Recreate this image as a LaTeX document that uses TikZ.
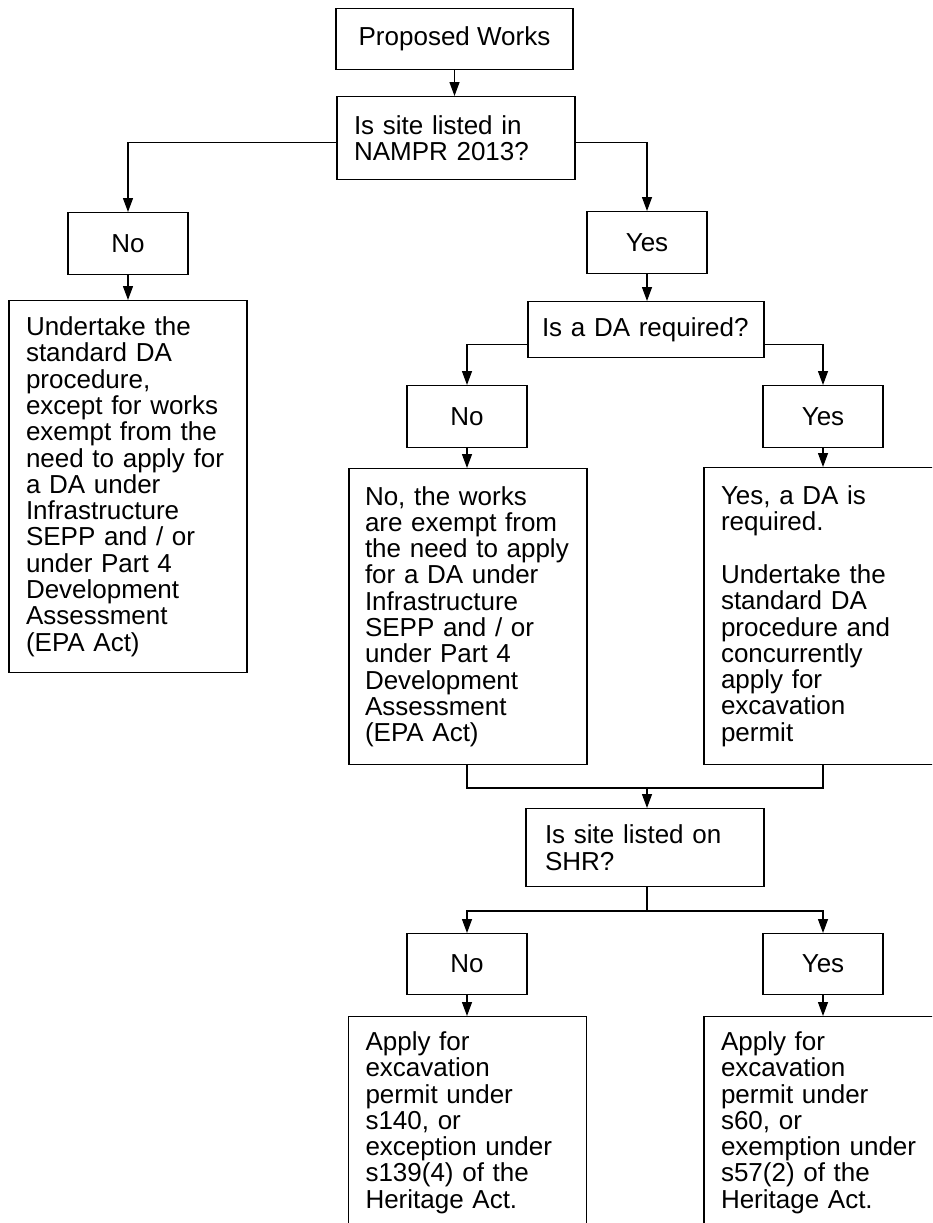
\documentclass[tikz,border=0pt]{standalone}
\usepackage{fontspec}
\setmainfont{Liberation Sans}
\usetikzlibrary{arrows.meta}
\tikzstyle{box}=[draw, line width=1.3pt, inner sep=0pt, anchor=north,
  font=\fontsize{26}{26.3}\selectfont]
\tikzstyle{question}=[box, align=left, text width=204pt, inner xsep=17pt]
\tikzstyle{answer}=[box, align=center, minimum width=120pt, minimum height=62pt]
\tikzstyle{link}=[line width=1.3pt]
\tikzstyle{arrow}=[link, -{Triangle[length=14pt,width=10pt]}]

\begin{document}
\begin{tikzpicture}[x=1pt, y=-1pt]
  \useasboundingbox (0,0) rectangle (932,1223);
  \clip (0,0) rectangle (932,1223);
  \node[box, align=center, minimum width=237pt, minimum height=61pt] (works) at (454.5,8) {Proposed Works};
  \node[question, minimum height=83pt] (nampr) at (456,96) {Is site listed in\\NAMPR 2013?};
  \node[answer] (no1) at (128,212) {No};
  \node[answer] (yes1) at (647,211) {Yes};
  \node[question, minimum height=372pt] (standard) at (128,300) {Undertake the\\standard DA\\procedure,\\except for works\\exempt from the\\need to apply for\\a DA under\\Infrastructure\\SEPP and / or\\under Part 4\\Development\\Assessment\\(EPA Act)};
  \node[question, minimum height=56pt, inner xsep=14pt, text width=208pt] (da) at (646,301) {Is a DA required?};
  \node[answer] (no2) at (467,385) {No};
  \node[answer] (yes2) at (823,385) {Yes};
  \node[question, minimum height=296pt, inner xsep=16pt, text width=206pt] (exempt) at (468,468) {No, the works\\are exempt from\\the need to apply\\for a DA under\\Infrastructure\\SEPP and / or\\under Part 4\\Development\\Assessment\\(EPA Act)};
  \node[question, minimum height=297pt] (required) at (823,467) {Yes, a DA is\\required.\\[26.3pt]Undertake the\\standard DA\\procedure and\\concurrently\\apply for\\excavation\\permit};
  \node[question, minimum height=78pt, inner xsep=19pt, text width=200pt] (shr) at (645,808) {Is site listed on\\SHR?};
  \node[answer, minimum height=61pt] (no3) at (467,933) {No};
  \node[answer, minimum height=61pt] (yes3) at (823,933) {Yes};
  \node[question, minimum height=212pt] (s140) at (467.5,1016) {Apply for\\excavation\\permit under\\s140, or\\exception under\\s139(4) of the\\Heritage Act.};
  \node[question, minimum height=212pt] (s60) at (823,1016) {Apply for\\excavation\\permit under\\s60, or\\exemption under\\s57(2) of the\\Heritage Act.};

  \coordinate (merge) at (647,788);
  \coordinate (split) at (647,911);
  \draw[arrow] (works.south) -- (works.south |- nampr.north);
  \draw[arrow] ([yshift=-4pt]nampr.west) -| (no1.north);
  \draw[arrow] ([yshift=-4pt]nampr.east) -| (yes1.north);
  \draw[arrow] (no1.south) -- (standard.north);
  \draw[arrow] (yes1.south) -- (yes1.south |- da.north);
  \draw[arrow] ([yshift=-15pt]da.west) -| (no2.north);
  \draw[arrow] ([yshift=-15pt]da.east) -| (yes2.north);
  \draw[arrow] (no2.south) -- (no2.south |- exempt.north);
  \draw[arrow] (yes2.south) -- (required.north);
  \draw[link] (no2.south |- exempt.south) |- (merge) -| (required.south);
  \draw[arrow] (merge) -- (merge |- shr.north);
  \draw[link] (split |- shr.south) -- (split);
  \draw[arrow] (split) -| (no3.north);
  \draw[arrow] (split) -| (yes3.north);
  \draw[arrow] (no3.south) -- (no3.south |- s140.north);
  \draw[arrow] (yes3.south) -- (s60.north);
\end{tikzpicture}
\end{document}
